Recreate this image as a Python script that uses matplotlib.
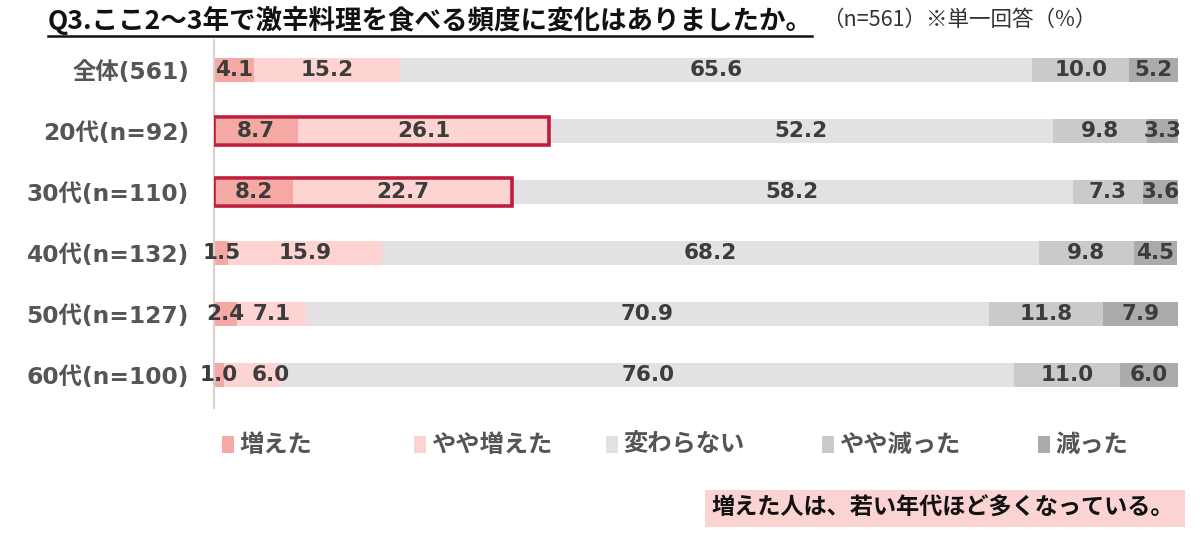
import matplotlib
matplotlib.use("Agg")
import matplotlib.pyplot as plt
from matplotlib.patches import Rectangle
from matplotlib.lines import Line2D
import numpy as np

categories = ["全体(561)", "20代(n=92)", "30代(n=110)", "40代(n=132)", "50代(n=127)", "60代(n=100)"]
series_names = ["増えた", "やや増えた", "変わらない", "やや減った", "減った"]
increased = [4.1, 8.7, 8.2, 1.5, 2.4, 1.0]
slightly_increased = [15.2, 26.1, 22.7, 15.9, 7.1, 6.0]
unchanged = [65.6, 52.2, 58.2, 68.2, 70.9, 76.0]
slightly_decreased = [10.0, 9.8, 7.3, 9.8, 11.8, 11.0]
decreased = [5.2, 3.3, 3.6, 4.5, 7.9, 6.0]
highlight_rows = [1, 2]

title = "Q3.ここ2～3年で激辛料理を食べる頻度に変化はありましたか。"
subtitle = "（n=561）※単一回答（%）"
note = "増えた人は、若い年代ほど多くなっている。"

colors = ["#F5A9A4", "#FDD4D2", "#E3E1E3", "#CACACA", "#ABABAB"]
fam = ["DejaVu Sans", "Noto Sans CJK JP"]
cjk = ["Noto Sans CJK JP", "DejaVu Sans"]

fig = plt.figure(figsize=(12, 5.42), dpi=100)
fig.patch.set_facecolor("white")
ax = fig.add_axes([214/1200, 1-408/542, 964/1200, 368/542])

data = [increased, slightly_increased, unchanged, slightly_decreased, decreased]
y = np.arange(len(categories))
left = np.zeros(len(categories))
labels = {i: [] for i in range(len(categories))}
for vals, c in zip(data, colors):
    vals = np.array(vals)
    ax.barh(y, vals, left=left, height=0.39, color=c, edgecolor="none")
    for yi, l, v in zip(y, left, vals):
        tx = ax.text(l + v/2, yi, f"{v:.1f}", ha="center", va="center",
                     fontsize=15.5, fontweight="bold", color="#3C3C3C", family=fam)
        labels[yi].append(tx)
    left += vals

for r in highlight_rows:
    w = increased[r] + slightly_increased[r]
    ax.add_patch(Rectangle((0, r - 0.225), w, 0.45, fill=False,
                           edgecolor="#BE1E3C", linewidth=2.6, zorder=5))

ax.set_xlim(0, 100)
ax.set_ylim(5.54, -0.49)
ax.set_xticks([])
ax.set_yticks(y)
ax.set_yticklabels(categories, fontsize=16.8, fontweight="bold", color="#555555", family=fam)
ax.tick_params(axis="y", length=0, pad=18)
for s in ["top", "right", "bottom"]:
    ax.spines[s].set_visible(False)
ax.spines["left"].set_color("#DCD0D0")
ax.spines["left"].set_linewidth(1.5)
ax.set_facecolor("none")

# nudge overlapping value labels to the right
fig.canvas.draw()
r_ = fig.canvas.get_renderer()
inv = ax.transData.inverted()
for yi, txts in labels.items():
    prev_right = None
    for tx in txts:
        bb = tx.get_window_extent(r_)
        if prev_right is not None and bb.x0 < prev_right + 6:
            shift = prev_right + 14 - bb.x0
            x0, _ = tx.get_position()
            px = ax.transData.transform((x0, yi))[0] + shift
            tx.set_x(inv.transform((px, 0))[0])
            bb = tx.get_window_extent(r_)
        prev_right = bb.x1

# Title
t = fig.text(48/1200, 1-20/542, title, fontsize=19.1, fontweight="bold",
             color="#111111", family=cjk, va="center", ha="left")
fig.text(822/1200, 1-20/542, subtitle, fontsize=15.5, color="#333333",
         family=cjk, va="center", ha="left")
fig.canvas.draw()
bb = t.get_window_extent().transformed(fig.transFigure.inverted())
fig.add_artist(Line2D([bb.x0, 812/1200], [1-36/542, 1-36/542],
                      color="#111111", linewidth=1.8, transform=fig.transFigure))

# Legend (manual)
leg_x = [222, 414, 606, 822, 1038]
leg_y = 1-445/542
for x, name, c in zip(leg_x, series_names, colors):
    fig.add_artist(Rectangle((x/1200, leg_y - 8/542), 12/1200, 17/542,
                             facecolor=c, edgecolor="none", transform=fig.transFigure))
    fig.text((x+17)/1200, leg_y, name, fontsize=17.5, fontweight="bold",
             color="#555555", family=cjk, va="center", ha="left")

# Note box
fig.add_artist(Rectangle((705/1200, 1-527/542), 480/1200, 37/542,
                         facecolor="#FBD3D3", edgecolor="none", transform=fig.transFigure))
fig.text(1174/1200, 1-508/542, note, fontsize=16.7, fontweight="bold",
         color="#111111", family=cjk, va="center", ha="right")

fig.savefig("out.png", dpi=100, facecolor="white")
